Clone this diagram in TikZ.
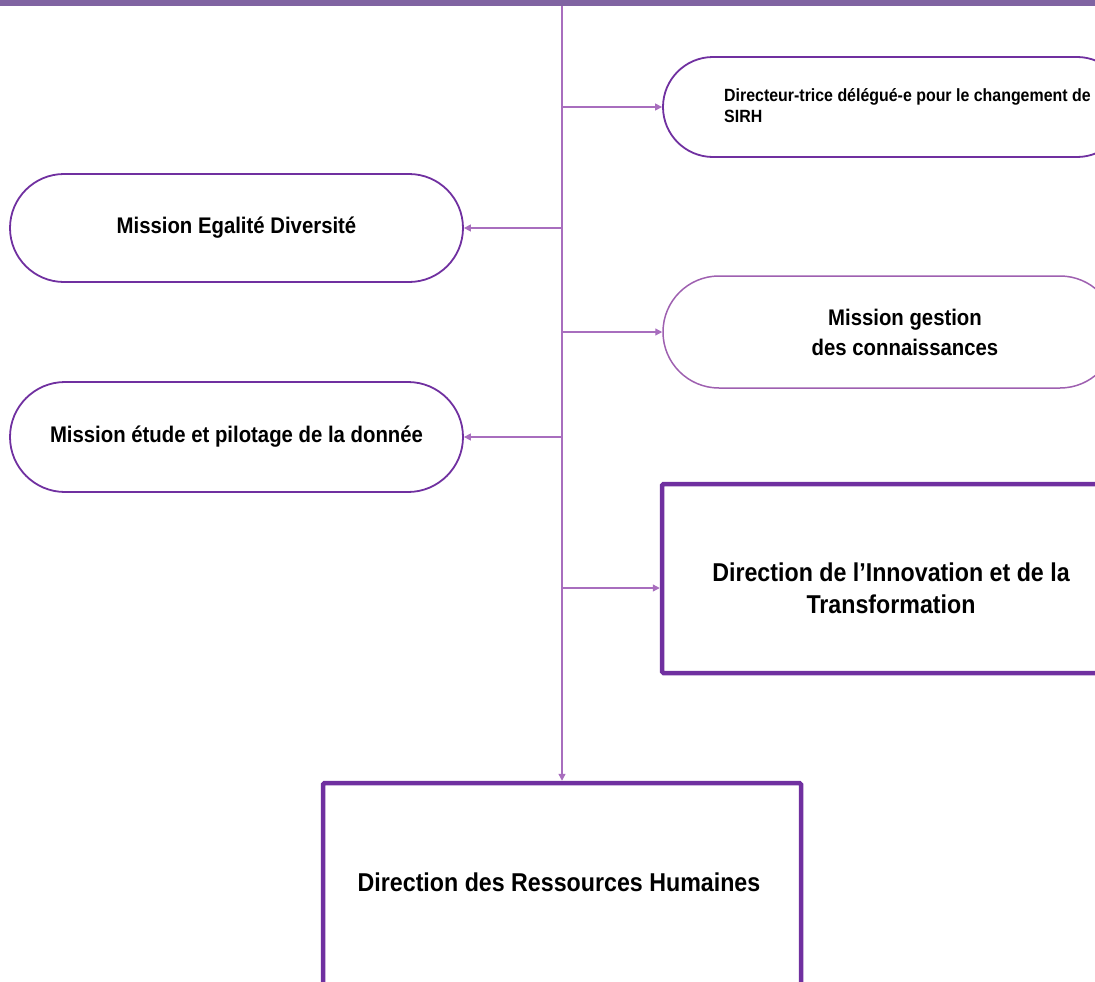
\documentclass[tikz,border=0pt]{standalone}
\usepackage{fontspec}
\setmainfont[FakeStretch=0.9]{Liberation Sans}
\usetikzlibrary{arrows.meta}
\definecolor{barc}{RGB}{128,100,162}
\definecolor{bord}{RGB}{112,48,160}
\definecolor{bordl}{RGB}{158,96,176}
\definecolor{linec}{RGB}{168,110,190}
\tikzset{
  stad/.style={draw=bord, line width=1.8pt, rectangle, inner sep=0pt, align=center, font=\bfseries\fontsize{22.6}{28}\selectfont},
  bigbox/.style={draw=bord, line width=4.5pt, rectangle, rounded corners=1.5pt, inner sep=0pt, align=center},
  txt/.style={inner sep=0pt, align=center, font=\bfseries},
  conn/.style={draw=linec, line width=1.3pt, -{Triangle[length=7pt,width=7pt]}}
}
\begin{document}
\begin{tikzpicture}[x=1pt,y=-1pt]
\useasboundingbox (0,0) rectangle (1095,982);
\clip (0,0) rectangle (1095,982);
% top bar
\fill[barc] (0,-2) rectangle (1095,6.5);
\coordinate (top) at (562,6);
% right stadium 1
\node[stad, rounded corners=50pt, minimum width=464pt, minimum height=100pt] (dir) at (895,107) {};
\node[txt, anchor=west, align=left, font=\bfseries\fontsize{17.7}{21}\selectfont] (dirtxt) at (724,106) {Directeur-trice délégué-e pour le changement de\\SIRH};
% left stadium 1
\node[stad, rounded corners=54pt, minimum width=453pt, minimum height=108pt] (med) at (236.5,228) {Mission Egalité Diversité};
% right stadium 2
\node[stad, draw=bordl, line width=1.5pt, rounded corners=56pt, minimum width=453pt, minimum height=112pt] (mgc) at (889.5,332) {};
\node[txt, font=\bfseries\fontsize{22.6}{30}\selectfont] (mgctxt) at (905,332) {Mission gestion\\des connaissances};
% left stadium 2
\node[stad, rounded corners=55pt, minimum width=453pt, minimum height=110pt] (mep) at (236.5,437) {Mission étude et pilotage de la donnée};
% innovation box
\node[bigbox, minimum width=460pt, minimum height=189pt] (dit) at (892,578.5) {};
\node[txt, font=\bfseries\fontsize{25.8}{32}\selectfont] (dittxt) at (891,588) {Direction de l’Innovation et de la\\Transformation};
% DRH box
\node[bigbox, minimum width=478pt, minimum height=206pt] (drh) at (562,886) {};
\node[txt, font=\bfseries\fontsize{25.8}{32}\selectfont] (drhtxt) at (559,882) {Direction des Ressources Humaines};
% connectors
\draw[conn] (top) -- (drh.north);
\draw[conn] (dir.west -| top) -- (dir.west);
\draw[conn] (med.east -| top) -- (med.east);
\draw[conn] (mgc.west -| top) -- (mgc.west);
\draw[conn] (mep.east -| top) -- (mep.east);
\draw[conn] (dittxt.center -| top) -- (dittxt.center -| dit.west);
\end{tikzpicture}
\end{document}
